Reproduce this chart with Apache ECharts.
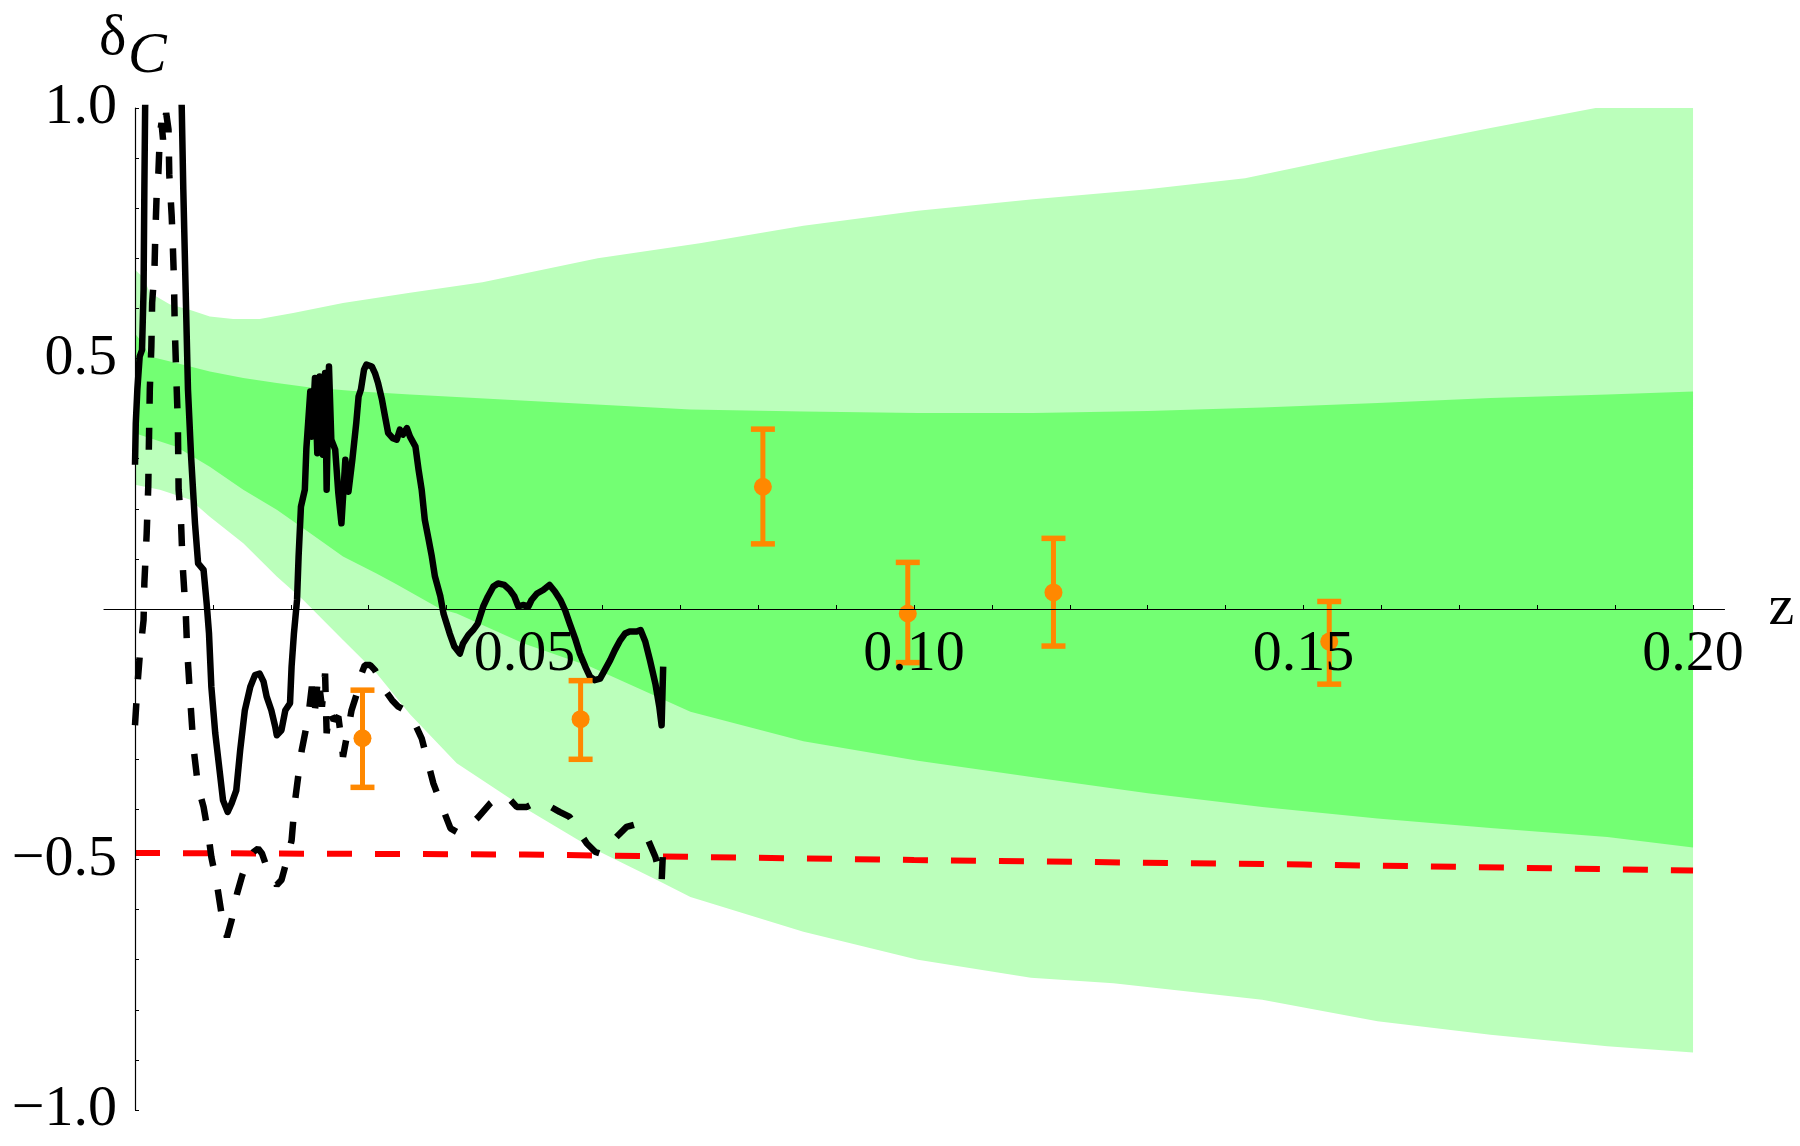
<!DOCTYPE html>
<html>
<head>
<meta charset="utf-8">
<script src="https://cdn.jsdelivr.net/npm/echarts@6.0.0/dist/echarts.min.js"></script>
<style>
  html, body { margin: 0; padding: 0; background: #fff; }
  #chart { width: 1800px; height: 1146px; }
</style>
</head>
<body>
<div id="chart"></div>
<script>
// tick positions / labels
const xTicks = [0.01, 0.02, 0.03, 0.04, 0.05, 0.06, 0.07, 0.08, 0.09, 0.10,
  0.11, 0.12, 0.13, 0.14, 0.15, 0.16, 0.17, 0.18, 0.19, 0.20]
const xLabels = [0.05, 0.10, 0.15, 0.20]
const yTicks = [-1.0, -0.9, -0.8, -0.7, -0.6, -0.5, -0.4, -0.3, -0.2, -0.1, 0,
  0.1, 0.2, 0.3, 0.4, 0.5, 0.6, 0.7, 0.8, 0.9, 1.0]
const yLabels = [-1.0, -0.5, 0.5, 1.0]

// green bands [z, delta]
const outerUpper = [[0, 0.677], [0.0011, 0.661], [0.0019, 0.631], [0.0045, 0.608], [0.0071, 0.597],
  [0.0096, 0.584], [0.0126, 0.579], [0.016, 0.579], [0.0203, 0.591], [0.0267, 0.611], [0.0353, 0.631],
  [0.0446, 0.652], [0.0594, 0.70], [0.0725, 0.73], [0.0858, 0.765], [0.1005, 0.795], [0.1153, 0.818],
  [0.13, 0.838], [0.1425, 0.86], [0.1595, 0.915], [0.174, 0.96], [0.1875, 1.0], [0.2, 1.0]]
const innerUpper = [[0, 0.55], [0.001, 0.53], [0.0019, 0.504], [0.0053, 0.491], [0.0096, 0.474],
  [0.0139, 0.461], [0.0182, 0.451], [0.0225, 0.442], [0.0289, 0.434], [0.0353, 0.428], [0.052, 0.414],
  [0.0713, 0.398], [0.0858, 0.394], [0.1005, 0.391], [0.1153, 0.391], [0.13, 0.395], [0.1447, 0.402],
  [0.1595, 0.411], [0.174, 0.421], [0.189, 0.428], [0.2, 0.434]]
const innerLower = [[0, 0.351], [0.0053, 0.324], [0.0096, 0.284], [0.0139, 0.238], [0.0182, 0.198],
  [0.0225, 0.151], [0.0267, 0.105], [0.031, 0.071], [0.0335, 0.05], [0.0392, 0.0], [0.0413, -0.009],
  [0.0499, -0.069], [0.0584, -0.115], [0.0713, -0.205], [0.0858, -0.264], [0.1005, -0.303],
  [0.1153, -0.336], [0.13, -0.368], [0.1447, -0.395], [0.1595, -0.418], [0.174, -0.437],
  [0.189, -0.455], [0.2, -0.476]]
const outerLower = [[0, 0.248], [0.0032, 0.238], [0.0071, 0.218], [0.0096, 0.184], [0.0139, 0.131],
  [0.0182, 0.065], [0.0216, 0.018], [0.0267, -0.062], [0.031, -0.128], [0.0353, -0.21], [0.0413, -0.308],
  [0.0498, -0.395], [0.0584, -0.475], [0.067, -0.541], [0.0713, -0.575], [0.0858, -0.644],
  [0.1005, -0.70], [0.115, -0.736], [0.1256, -0.747], [0.1447, -0.78], [0.1595, -0.823],
  [0.174, -0.85], [0.189, -0.873], [0.2, -0.885]]

// red dashed reference line
const redLine = [[0, -0.487], [0.05, -0.49], [0.1, -0.501], [0.15, -0.51], [0.2, -0.522]]

// black solid curve
const solidCurve = [[0, 0.288], [0.0001, 0.371], [0.0003, 0.438], [0.0006, 0.504], [0.0009, 0.517],
  [0.0011, 0.637], [0.0012, 0.837], [0.0013, 1.0], [0.0015, 1.12], [0.0035, 1.25], [0.0058, 1.12],
  [0.006, 1.0], [0.0062, 0.837], [0.0065, 0.637], [0.0068, 0.438], [0.0072, 0.304], [0.0077, 0.171],
  [0.0081, 0.091], [0.0088, 0.078], [0.0092, 0.011], [0.0095, -0.049], [0.0098, -0.155],
  [0.0103, -0.248], [0.0109, -0.328], [0.0113, -0.382], [0.0119, -0.405], [0.0124, -0.388],
  [0.013, -0.362], [0.0135, -0.282], [0.0141, -0.202], [0.0148, -0.155], [0.0154, -0.132],
  [0.016, -0.129], [0.0165, -0.145], [0.0169, -0.175], [0.0175, -0.202], [0.018, -0.235],
  [0.0182, -0.252], [0.0188, -0.242], [0.0193, -0.202], [0.0199, -0.188], [0.0201, -0.115],
  [0.0204, -0.049], [0.0208, 0.018], [0.021, 0.105], [0.0213, 0.204], [0.0218, 0.238], [0.022, 0.321],
  [0.0225, 0.434], [0.0227, 0.344], [0.0231, 0.461], [0.0234, 0.311], [0.0237, 0.464], [0.0241, 0.308],
  [0.0244, 0.471], [0.0246, 0.238], [0.0249, 0.484], [0.0252, 0.338], [0.0257, 0.318], [0.0261, 0.231],
  [0.0265, 0.171], [0.027, 0.298], [0.0274, 0.234], [0.0279, 0.298], [0.0284, 0.371], [0.0287, 0.424],
  [0.029, 0.438], [0.0294, 0.478], [0.0297, 0.488], [0.0304, 0.484], [0.0308, 0.471], [0.0312, 0.451],
  [0.0317, 0.418], [0.0321, 0.384], [0.0325, 0.351], [0.0331, 0.341], [0.0336, 0.338], [0.034, 0.358],
  [0.0344, 0.348], [0.0349, 0.361], [0.0353, 0.344], [0.036, 0.324], [0.0364, 0.278], [0.0368, 0.238],
  [0.0372, 0.178], [0.0377, 0.138], [0.0381, 0.105], [0.0385, 0.065], [0.0392, 0.025], [0.0396, -0.009],
  [0.04, -0.029], [0.0404, -0.049], [0.041, -0.075], [0.0417, -0.089], [0.0421, -0.069],
  [0.0428, -0.052], [0.0434, -0.042], [0.044, -0.029], [0.0447, 0.005], [0.0453, 0.025], [0.046, 0.045],
  [0.0466, 0.051], [0.0474, 0.048], [0.0481, 0.038], [0.0487, 0.025], [0.0492, 0.005], [0.0498, 0.008],
  [0.0505, 0.005], [0.0509, 0.018], [0.0516, 0.031], [0.0524, 0.038], [0.0532, 0.048], [0.0539, 0.035],
  [0.0546, 0.018], [0.0552, -0.002], [0.0558, -0.029], [0.0565, -0.059], [0.0571, -0.089],
  [0.0578, -0.115], [0.0584, -0.135], [0.059, -0.142], [0.0597, -0.139], [0.0603, -0.122],
  [0.061, -0.102], [0.0616, -0.082], [0.0623, -0.062], [0.0629, -0.049], [0.0635, -0.045],
  [0.0644, -0.045], [0.0649, -0.042], [0.0655, -0.065], [0.0661, -0.102], [0.0668, -0.149],
  [0.0673, -0.195], [0.0676, -0.232], [0.0678, -0.115]]

// black dashed curve
const dashedCurve = [[0, -0.232], [0.0003, -0.155], [0.0006, -0.095], [0.0011, -0.022], [0.0012, 0.051],
  [0.0015, 0.151], [0.0017, 0.244], [0.0018, 0.344], [0.0019, 0.438], [0.0021, 0.524], [0.0022, 0.611],
  [0.0025, 0.677], [0.0026, 0.744], [0.0028, 0.837], [0.003, 0.87], [0.0032, 0.95], [0.0034, 0.97],
  [0.0036, 0.937], [0.004, 0.99], [0.0043, 0.957], [0.0044, 0.867], [0.0047, 0.787], [0.0048, 0.751],
  [0.005, 0.657], [0.0051, 0.564], [0.0053, 0.464], [0.0055, 0.371], [0.0056, 0.238], [0.0059, 0.178],
  [0.0061, 0.091], [0.0064, 0.018], [0.0065, -0.002], [0.0067, -0.082], [0.0071, -0.182],
  [0.0075, -0.275], [0.0081, -0.355], [0.0088, -0.395], [0.0094, -0.448], [0.0098, -0.495],
  [0.0105, -0.548], [0.0111, -0.608], [0.0118, -0.655], [0.0124, -0.621], [0.0131, -0.568],
  [0.0137, -0.535], [0.0143, -0.508], [0.0152, -0.485], [0.0158, -0.478], [0.0163, -0.488],
  [0.0169, -0.515], [0.0175, -0.535], [0.0182, -0.551], [0.0188, -0.541], [0.0195, -0.501],
  [0.0201, -0.462], [0.0205, -0.388], [0.021, -0.328], [0.0214, -0.282], [0.022, -0.235],
  [0.0223, -0.208], [0.0227, -0.155], [0.0231, -0.202], [0.0235, -0.135], [0.024, -0.195],
  [0.0244, -0.129], [0.0246, -0.248], [0.025, -0.202], [0.0255, -0.222], [0.0261, -0.215],
  [0.0265, -0.262], [0.0267, -0.295], [0.0273, -0.245], [0.0278, -0.202], [0.0285, -0.168],
  [0.029, -0.132], [0.0295, -0.112], [0.0302, -0.112], [0.0308, -0.122], [0.0315, -0.142],
  [0.0321, -0.162], [0.033, -0.182], [0.0338, -0.195], [0.0344, -0.2], [0.0355, -0.215],
  [0.0368, -0.258], [0.0383, -0.348], [0.0396, -0.402], [0.0405, -0.438], [0.0413, -0.445],
  [0.0428, -0.435], [0.0441, -0.415], [0.0456, -0.388], [0.0469, -0.372], [0.048, -0.378],
  [0.049, -0.395], [0.0503, -0.395], [0.0516, -0.385], [0.0528, -0.39], [0.0545, -0.405],
  [0.0558, -0.415], [0.0569, -0.442], [0.058, -0.468], [0.0591, -0.485], [0.0597, -0.488],
  [0.0606, -0.475], [0.0618, -0.455], [0.0631, -0.435], [0.0642, -0.43], [0.065, -0.435],
  [0.0659, -0.462], [0.0668, -0.495], [0.0673, -0.525], [0.0676, -0.545], [0.0678, -0.475]]

// orange points: [z, delta, low, high]
const errorPoints = [
  [0.0292, -0.258, -0.356, -0.162],
  [0.0572, -0.220, -0.300, -0.143],
  [0.0806, 0.244, 0.130, 0.359],
  [0.0992, -0.009, -0.107, 0.093],
  [0.1179, 0.033, -0.074, 0.141],
  [0.1533, -0.065, -0.150, 0.015]
]

const LIGHT = 'rgb(187,255,187)'
const DARK = 'rgb(115,255,115)'
const ORANGE = '#FF8800'
const FONT = '"Liberation Serif", "Times New Roman", serif'

// grid box: z = 0 and delta = 0 sit inside it, axes are shifted onto them
const GRID = { left: 104, right: 75.5, top: 108, bottom: 36 }
const X_MIN = -0.00398
const X_MAX = 0.20404

// band polygon drawn once through the axis scales
function bandRenderer(upper, lower, color) {
  return function (params, api) {
    if (params.dataIndex !== 0) return
    const pts = upper.concat(lower.slice().reverse()).map(p => api.coord(p))
    return { type: 'polygon', shape: { points: pts }, style: { fill: color } }
  }
}

function renderError(params, api) {
  const z = api.value(0)
  const c = api.coord([z, api.value(1)])
  const lo = api.coord([z, api.value(2)])
  const hi = api.coord([z, api.value(3)])
  const half = 12
  const bar = { stroke: ORANGE, lineWidth: 5, fill: null }
  const cap = { stroke: ORANGE, lineWidth: 5.5, fill: null }
  return {
    type: 'group',
    children: [
      { type: 'line', shape: { x1: c[0], y1: lo[1], x2: c[0], y2: hi[1] }, style: bar },
      { type: 'line', shape: { x1: c[0] - half, y1: hi[1], x2: c[0] + half, y2: hi[1] }, style: cap },
      { type: 'line', shape: { x1: c[0] - half, y1: lo[1], x2: c[0] + half, y2: lo[1] }, style: cap },
      { type: 'circle', shape: { cx: c[0], cy: c[1], r: 9 }, style: { fill: ORANGE } }
    ]
  }
}

const chart = echarts.init(document.getElementById('chart'))

const plotW = 1800 - GRID.left - GRID.right
const plotH = 1146 - GRID.top - GRID.bottom

const option = {
  animation: false,
  backgroundColor: '#fff',
  grid: Object.assign({ outerBoundsMode: 'none' }, GRID),
  xAxis: {
    type: 'value',
    min: X_MIN,
    max: X_MAX,
    z: 10,
    position: 'bottom',
    offset: -plotH / 2, // move up to delta = 0
    axisLine: { onZero: false, lineStyle: { color: '#000', width: 1.2 } },
    axisTick: { inside: true, length: 4, customValues: xTicks, lineStyle: { color: '#000', width: 1 } },
    axisLabel: {
      customValues: xLabels,
      formatter: v => v.toFixed(2),
      fontFamily: FONT,
      fontSize: 58,
      color: '#000',
      margin: 17
    },
    splitLine: { show: false },
    name: 'z',
    nameLocation: 'end',
    nameGap: 44,
    nameTextStyle: { fontFamily: FONT, fontSize: 58, color: '#000' }
  },
  yAxis: {
    type: 'value',
    min: -1,
    max: 1,
    z: 10,
    position: 'left',
    offset: -plotW * (-X_MIN) / (X_MAX - X_MIN), // move right to z = 0
    axisLine: { onZero: false, lineStyle: { color: '#000', width: 1.2 } },
    axisTick: { inside: true, length: 4, customValues: yTicks, lineStyle: { color: '#000', width: 1 } },
    axisLabel: {
      customValues: yLabels,
      formatter: v => (v < 0 ? '\u2212' : '') + Math.abs(v).toFixed(1),
      fontFamily: FONT,
      fontSize: 58,
      color: '#000',
      margin: 18
    },
    splitLine: { show: false }
  },
  graphic: [
    { type: 'text', left: 99, top: 10, z: 20,
      style: { text: '\u03b4', font: '58px ' + FONT, fill: '#000' } },
    { type: 'text', left: 128, top: 28, z: 20,
      style: { text: 'C', font: 'italic 58px ' + FONT, fill: '#000' } }
  ],
  series: [
    {
      type: 'custom', z: 1, silent: true,
      renderItem: bandRenderer(outerUpper, outerLower, LIGHT),
      data: [[0, 0]]
    },
    {
      type: 'custom', z: 1, silent: true,
      renderItem: bandRenderer(innerUpper, innerLower, DARK),
      data: [[0, 0]]
    },
    {
      type: 'line', z: 2, silent: true, symbol: 'none',
      data: redLine,
      lineStyle: { color: '#FF0000', width: 6, type: [25, 23] }
    },
    {
      type: 'line', z: 3, silent: true, symbol: 'none', clip: true,
      data: solidCurve,
      lineStyle: { color: '#000', width: 6.5, join: 'round' }
    },
    {
      type: 'line', z: 3, silent: true, symbol: 'none', clip: true,
      data: dashedCurve,
      lineStyle: { color: '#000', width: 6.5, type: [22, 24] }
    },
    {
      type: 'custom', z: 4, silent: true,
      renderItem: renderError,
      data: errorPoints
    }
  ]
}

chart.setOption(option)
</script>
</body>
</html>
